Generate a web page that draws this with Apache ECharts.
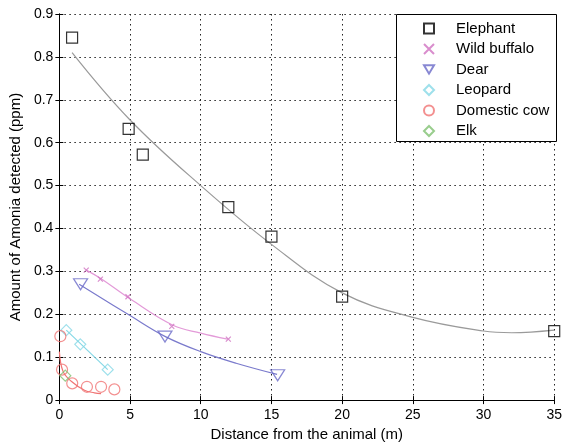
<!DOCTYPE html>
<html>
<head>
<meta charset="utf-8">
<script src="https://cdn.jsdelivr.net/npm/echarts@6/dist/echarts.min.js"></script>
<style>
  html, body { margin: 0; padding: 0; background: #fff; }
  #chart { width: 565px; height: 447px; }
</style>
</head>
<body>
<div id="chart"></div>
<script>
// measured points (distance m, ammonia ppm)
const elephant = [[0.9, 0.845], [4.9, 0.632], [5.9, 0.572], [11.95, 0.45], [15, 0.381], [20, 0.241], [35, 0.161]];
const buffalo = [[1.9, 0.303], [2.9, 0.282], [4.85, 0.241], [7.95, 0.172], [11.95, 0.142]];
const deer = [[1.5, 0.27], [7.47, 0.148], [15.44, 0.058]];
const leopard = [[0.49, 0.163], [1.48, 0.13], [3.42, 0.071]];
const cow = [[0.07, 0.149], [0.19, 0.071], [0.91, 0.039], [1.95, 0.031], [2.95, 0.031], [3.89, 0.025]];
const elk = [[0.42, 0.057]];

// fitted curves
const elephantFit = [[0.9, 0.81], [5, 0.653], [10, 0.5], [15, 0.363], [20, 0.25], [25, 0.193], [30, 0.161], [32, 0.157], [35, 0.163]];
const buffaloFit = [[1.9, 0.303], [2.9, 0.284], [5, 0.236], [8, 0.175], [10, 0.156], [11.9, 0.142]];
const deerFit = [[1.4, 0.27], [5, 0.197], [7.5, 0.148], [10, 0.113], [12.5, 0.086], [15.4, 0.06]];
const leopardFit = [[0.49, 0.163], [3.42, 0.071]];
const cowFit = [[0, 0.113], [0.26, 0.067], [0.84, 0.044], [1.78, 0.023], [2.48, 0.017], [2.95, 0.015]];

const xTicks = [0, 35, 5];
const yTicks = [0, 0.9, 0.1];

const font = 'Liberation Sans, Arial, sans-serif';
const chart = echarts.init(document.getElementById('chart'));

const gridDots = { show: true, lineStyle: { color: '#222', type: [1.5, 3.5], width: 1 } };
const axisBase = {
  type: 'value',
  axisLine: { show: true, lineStyle: { color: '#000', width: 1 } },
  axisTick: { show: true, inside: true, length: 4, lineStyle: { color: '#000' } },
  splitLine: { show: false }
};

const xMark = 'path://M0,0L10,10M10,0L0,10';
const downTri = 'path://M0,0L12,0L6,10Z';

function fitLine(data, color) {
  return {
    type: 'line', data: data, smooth: 0.4, showSymbol: false, silent: true,
    lineStyle: { color: color, width: 1.2 }, z: 2
  };
}
function marks(name, data, symbol, size, color) {
  return {
    name: name, type: 'scatter', data: data, symbol: symbol, symbolSize: size,
    itemStyle: { color: 'transparent', borderColor: color, borderWidth: 1.2 }, z: 3
  };
}

const option = {
  animation: false,
  textStyle: { fontFamily: font },
  grid: { left: 58, right: 8, top: 14, bottom: 41 },
  xAxis: [
    Object.assign({}, axisBase, {
      min: xTicks[0], max: xTicks[1], interval: xTicks[2], position: 'bottom',
      splitLine: gridDots,
      axisLabel: { color: '#000', fontSize: 14, margin: 8 },
      name: 'Distance from the animal (m)', nameLocation: 'middle', nameGap: 25,
      nameTextStyle: { color: '#000', fontSize: 15 }
    }),
    Object.assign({}, axisBase, {
      min: xTicks[0], max: xTicks[1], interval: xTicks[2], position: 'top',
      axisLabel: { show: false }
    })
  ],
  yAxis: [
    Object.assign({}, axisBase, {
      min: yTicks[0], max: yTicks[1], interval: yTicks[2], position: 'left',
      splitLine: gridDots,
      axisLabel: { color: '#000', fontSize: 14, margin: 6 },
      name: 'Amount of Amonia detected (ppm)', nameLocation: 'middle', nameGap: 33,
      nameTextStyle: { color: '#000', fontSize: 15 }
    }),
    Object.assign({}, axisBase, {
      min: yTicks[0], max: yTicks[1], interval: yTicks[2], position: 'right',
      axisLabel: { show: false }
    })
  ],
  graphic: [{
    type: 'rect', left: 396, top: 14, z: 10,
    shape: { width: 160, height: 127 },
    style: { fill: '#fff', stroke: '#000', lineWidth: 1 }
  }],
  legend: {
    orient: 'vertical', left: 423, top: 21, padding: 0, z: 20,
    itemWidth: 10, itemHeight: 10, itemGap: 5.5,
    textStyle: { fontSize: 15, color: '#000', fontFamily: font, padding: [0, 0, 0, 17] },
    data: ['Elephant', 'Wild buffalo', { name: 'Dear', icon: downTri }, 'Leopard', 'Domestic cow', 'Elk']
  },
  series: [
    fitLine(elephantFit, '#9a9a9a'),
    fitLine(buffaloFit, '#e39ad8'),
    fitLine(deerFit, '#7a7acc'),
    fitLine(leopardFit, '#86d8e6'),
    fitLine(cowFit, '#f07474'),
    marks('Elephant', elephant, 'rect', 11, '#000'),
    marks('Wild buffalo', buffalo, xMark, 5, '#d070c0'),
    marks('Dear', deer, downTri, [14, 11], '#6a6ac8'),
    marks('Leopard', leopard, 'diamond', 11, '#86d8e6'),
    marks('Domestic cow', cow, 'circle', 11, '#f07474'),
    marks('Elk', elk, 'diamond', 11, '#80c070')
  ]
};
chart.setOption(option);
</script>
</body>
</html>
